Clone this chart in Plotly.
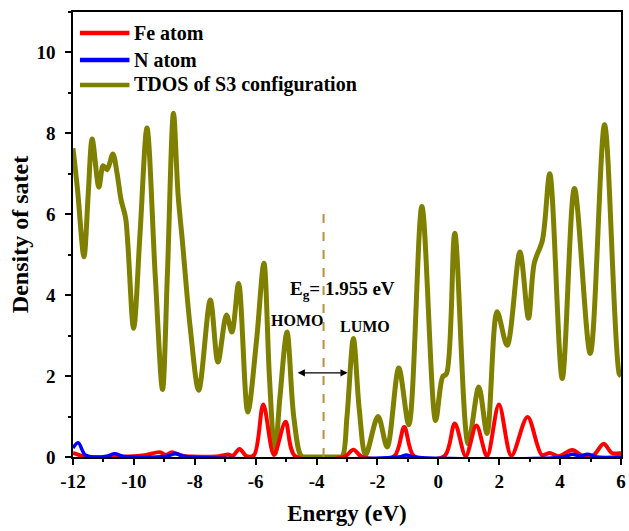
import plotly.graph_objects as go

# ---- data ----
tdos_x = [-12.0, -11.85, -11.64, -11.5, -11.37, -11.15, -11.01, -10.88, -10.69, -10.55,
          -10.42, -10.27, -10.01, -9.8, -9.57, -9.3, -9.06, -8.9, -8.70, -8.55,
          -8.41, -8.15, -7.87, -7.49, -7.24, -6.96, -6.78, -6.56, -6.26, -5.97,
          -5.73, -5.55, -5.37, -5.2, -4.97, -4.75, -4.5, -4.3, -3.6, -3.3,
          -3.15, -3.0, -2.79, -2.6, -2.39, -1.98, -1.68, -1.30, -0.97, -0.54,
          -0.09, 0.14, 0.27, 0.54, 0.98, 1.33, 1.60, 1.93, 2.26, 2.68,
          2.96, 3.15, 3.42, 3.66, 4.07, 4.47, 4.99, 5.46, 5.94, 6.0]
tdos_y = [7.63, 6.6, 4.95, 6.5, 7.86, 6.67, 7.2, 7.1, 7.49, 7.0,
          6.35, 5.9, 3.18, 5.5, 8.13, 4.5, 1.67, 4.5, 8.5, 6.5,
          5.36, 3.2, 1.65, 3.88, 2.35, 3.51, 3.09, 4.29, 1.11, 2.89,
          4.79, 2.0, 0.08, 1.5, 3.09, 1.0, 0.02, 0.0, 0.0, 0.0,
          0.02, 1.0, 2.93, 1.2, 0.05, 1.0, 0.25, 2.2, 0.8, 6.19,
          0.9, 1.98, 2.06, 5.53, 0.33, 1.73, 0.58, 3.59, 2.76, 5.07,
          3.43, 4.79, 5.36, 7.0, 1.94, 6.64, 2.56, 8.21, 2.06, 2.0]

fe_x = [-12.0, -11.8, -11.5, -10.0, -9.6, -9.15, -8.95, -8.75, -8.4, -7.2,
        -6.9, -6.75, -6.53, -6.3, -6.05, -5.75, -5.4, -5.02, -4.7, -3.1,
        -2.79, -2.5, -1.45, -1.12, -0.8, 0.2, 0.54, 0.9, 1.25, 1.6,
        1.99, 2.4, 2.93, 3.4, 3.66, 3.95, 4.4, 4.75, 5.1, 5.43, 5.7, 6.0]
fe_y = [0.1, 0.05, 0.0, 0.02, 0.05, 0.12, 0.05, 0.12, 0.03, 0.02,
        0.06, 0.03, 0.2, 0.02, 0.05, 1.3, 0.05, 0.87, 0.02, 0.0,
        0.18, 0.0, 0.02, 0.74, 0.02, 0.02, 0.83, 0.02, 0.78, 0.02,
        1.30, 0.03, 0.99, 0.05, 0.1, 0.02, 0.17, 0.03, 0.05, 0.33, 0.1, 0.1]

n_x = [-12.0, -11.83, -11.6, -11.3, -10.9, -10.63, -10.3, -9.0, -8.62, -8.3,
       -1.3, -1.05, -0.8, 4.1, 4.4, 4.65, 4.9, 5.2, 6.0]
n_y = [0.22, 0.35, 0.05, 0.0, 0.02, 0.08, 0.01, 0.01, 0.08, 0.01,
       0.0, 0.05, 0.0, 0.0, 0.07, 0.02, 0.07, 0.0, 0.0]

x_ticks = [-12, -10, -8, -6, -4, -2, 0, 2, 4, 6]
y_ticks = [0, 2, 4, 6, 8, 10]

names = ["Fe atom", "N atom", "TDOS of S3 configuration"]
colors = ["#FF0000", "#0000FF", "#808000"]

gap_line_x = -3.77
gap_line_top = 6.05
homo_edge = -4.67
lumo_edge = -2.98
arrow_y = 2.08

FONT = "Liberation Serif"

fig = go.Figure()
fig.add_trace(go.Scatter(x=tdos_x, y=tdos_y, mode="lines", name=names[2],
                         line=dict(color=colors[2], width=5, shape="spline", smoothing=0.9),
                         showlegend=False))
fig.add_trace(go.Scatter(x=fe_x, y=fe_y, mode="lines", name=names[0],
                         line=dict(color=colors[0], width=4, shape="spline", smoothing=0.9),
                         showlegend=False))
fig.add_trace(go.Scatter(x=n_x, y=n_y, mode="lines", name=names[1],
                         line=dict(color=colors[1], width=3.5, shape="spline", smoothing=0.9),
                         showlegend=False))

# gap marker
fig.add_shape(type="line", x0=gap_line_x, x1=gap_line_x, y0=0, y1=gap_line_top,
              xref="x", yref="y", line=dict(color="#B8913F", width=2, dash="dash"))
fig.add_annotation(x=lumo_edge, y=arrow_y, ax=homo_edge, ay=arrow_y,
                   xref="x", yref="y", axref="x", ayref="y", text="",
                   showarrow=True, arrowhead=2, arrowside="end+start",
                   arrowsize=1.2, arrowwidth=1.2, arrowcolor="black")
fig.add_annotation(x=-3.15, y=4.13, xref="x", yref="y", showarrow=False,
                   text="<b>E<sub>g</sub>= 1.955 eV</b>",
                   font=dict(family=FONT, size=19, color="black"))
fig.add_annotation(x=-4.64, y=3.38, xref="x", yref="y", showarrow=False,
                   text="<b>HOMO</b>", font=dict(family=FONT, size=16, color="black"))
fig.add_annotation(x=-2.4, y=3.22, xref="x", yref="y", showarrow=False,
                   text="<b>LUMO</b>", font=dict(family=FONT, size=16, color="black"))

# manual legend
leg_rows = [0.953, 0.892, 0.836]
for name, col, ry in zip(names, colors, leg_rows):
    fig.add_shape(type="line", xref="paper", yref="paper", x0=0.0127, x1=0.103,
                  y0=ry, y1=ry, line=dict(color=col, width=4.5))
    fig.add_annotation(xref="paper", yref="paper", x=0.108, y=ry, xanchor="left",
                       yanchor="middle", showarrow=False, text="<b>%s</b>" % name,
                       font=dict(family=FONT, size=20, color="black"))

axis_common = dict(showline=True, linecolor="black", linewidth=1.5, mirror=True,
                   ticks="outside", ticklen=6, tickwidth=1.5, tickcolor="black",
                   showgrid=False, zeroline=False,
                   tickfont=dict(family=FONT, size=19, color="black", weight="bold"))

fig.update_xaxes(range=[-12, 6], tickvals=x_ticks, ticktext=[str(v) for v in x_ticks],
                 minor=dict(dtick=1, ticks="outside", ticklen=3, tickwidth=1.5, tickcolor="black"),
                 title_text="Energy (eV)", title_standoff=14,
                 title_font=dict(family=FONT, size=23, color="black", weight="bold"),
                 **axis_common)
fig.update_yaxes(range=[0, 11], tickvals=y_ticks, ticktext=[str(v) for v in y_ticks],
                 minor=dict(dtick=1, ticks="outside", ticklen=3, tickwidth=1.5, tickcolor="black"),
                 title_text="Density of satet", title_standoff=1, ticklabelstandoff=6,
                 title_font=dict(family=FONT, size=24, color="black", weight="bold"),
                 **axis_common)

fig.update_layout(width=629, height=531, plot_bgcolor="white", paper_bgcolor="white",
                  margin=dict(l=73, r=3, t=12, b=74), showlegend=False)

fig.write_html("out.html", config={"displayModeBar": False},
               post_script="document.body.style.margin='0px';document.body.style.padding='0px';")
